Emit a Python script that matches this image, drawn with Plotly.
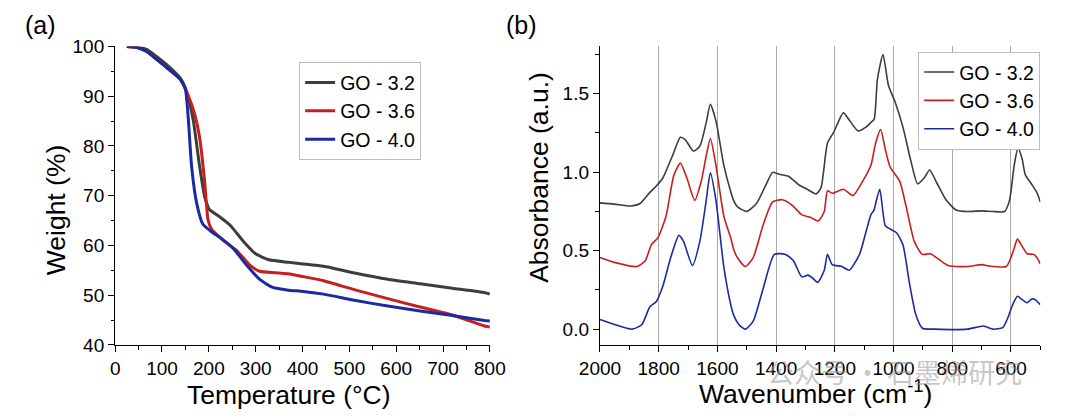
import plotly.graph_objects as go

# ---------------- (a) TGA data ----------------
tga_t_32 = [25, 45, 67, 108, 139, 153, 167, 180, 191, 198, 201, 225, 246, 273, 300, 328, 370, 397, 445, 514, 582, 651, 720, 789, 800]
tga_w_32 = [100, 99.9, 99.4, 96.5, 93.6, 90.8, 85.0, 76.1, 69.8, 67.8, 67.2, 65.6, 64.0, 60.9, 58.3, 57.1, 56.6, 56.3, 55.8, 54.4, 53.2, 52.3, 51.4, 50.5, 50.2]

tga_t_36 = [25, 45, 67, 108, 139, 156, 170, 180, 191, 198, 205, 232, 259, 287, 308, 342, 376, 397, 445, 514, 582, 651, 720, 789, 800]
tga_w_36 = [100, 99.8, 99.0, 95.9, 93.4, 90.1, 86.3, 81.9, 72.9, 65.3, 63.4, 60.9, 59.0, 56.1, 54.8, 54.5, 54.2, 53.8, 52.9, 51.0, 49.3, 47.6, 46.0, 43.8, 43.6]

tga_t_40 = [25, 45, 67, 108, 139, 150, 156, 163, 174, 187, 205, 225, 253, 280, 308, 335, 370, 397, 445, 514, 582, 651, 720, 789, 800]
tga_w_40 = [100, 99.8, 99.0, 95.9, 93.4, 91.4, 85.7, 76.1, 68.5, 64.3, 62.8, 61.5, 59.3, 56.1, 53.2, 51.6, 51.0, 50.8, 50.2, 48.9, 47.8, 46.8, 45.9, 44.9, 44.8]

# ---------------- (b) FTIR data ----------------
ir_k_32 = [2000, 1951, 1896, 1863, 1830, 1808, 1786, 1753, 1726, 1709, 1682, 1660, 1638, 1624, 1605, 1578, 1554, 1545,
           1532, 1500, 1467, 1434, 1412, 1390, 1357, 1324, 1291, 1264, 1247, 1225, 1203, 1171, 1149, 1121, 1094, 1077,
           1066, 1055, 1036, 1017, 995, 968, 940, 918, 896, 877, 853, 820, 787, 748, 699, 661, 622, 605, 589, 576, 562,
           551, 529, 512, 500]
ir_a_32 = [0.804, 0.796, 0.784, 0.800, 0.871, 0.911, 0.962, 1.104, 1.221, 1.205, 1.134, 1.164, 1.316, 1.432, 1.326, 1.043, 0.871, 0.820,
           0.780, 0.749, 0.800, 0.921, 0.998, 0.986, 0.972, 0.921, 0.887, 0.861, 0.901, 1.185, 1.256, 1.377, 1.326, 1.262, 1.286, 1.316,
           1.337, 1.590, 1.748, 1.549, 1.448, 1.286, 1.063, 0.925, 0.962, 1.013, 0.932, 0.820, 0.759, 0.749, 0.753, 0.749, 0.749, 0.820, 1.043, 1.154, 1.083,
           0.982, 0.921, 0.871, 0.810]

ir_k_36 = [2000, 1951, 1874, 1846, 1825, 1803, 1775, 1748, 1726, 1704, 1677, 1655, 1638, 1624, 1605, 1578, 1554, 1545, 1532,
           1505, 1478, 1445, 1412, 1379, 1346, 1313, 1280, 1256, 1236, 1225, 1209, 1171, 1138, 1105, 1077, 1072, 1061, 1044,
           1028, 1012, 979, 957, 929, 902, 874, 847, 814, 748, 699, 677, 616, 600, 589, 578, 562, 545, 523, 512, 500]
ir_a_36 = [0.456, 0.425, 0.399, 0.435, 0.537, 0.581, 0.719, 0.982, 1.057, 0.962, 0.820, 0.942, 1.104, 1.213, 1.043, 0.719, 0.577, 0.510, 0.456,
           0.399, 0.456, 0.658, 0.810, 0.824, 0.790, 0.729, 0.709, 0.689, 0.749, 0.881, 0.865, 0.891, 0.851, 0.942, 1.043, 1.083, 1.185, 1.270,
           1.144, 1.033, 0.942, 0.780, 0.557, 0.476, 0.480, 0.446, 0.405, 0.399, 0.411, 0.403, 0.399, 0.456, 0.516, 0.573, 0.527, 0.480, 0.476, 0.456, 0.415]

ir_k_40 = [2000, 1951, 1890, 1857, 1830, 1808, 1786, 1759, 1731, 1715, 1685, 1660, 1638, 1624, 1605, 1578, 1554, 1545, 1527,
           1505, 1478, 1445, 1406, 1368, 1341, 1313, 1291, 1275, 1258, 1236, 1225, 1209, 1176, 1151, 1116, 1094, 1077, 1066,
           1061, 1047, 1028, 1012, 990, 968, 946, 924, 902, 858, 748, 694, 661, 628, 611, 595, 578, 562, 545, 529, 518, 500]
ir_a_40 = [0.061, 0.030, 0.000, 0.030, 0.142, 0.176, 0.273, 0.456, 0.597, 0.557, 0.405, 0.557, 0.820, 0.996, 0.820, 0.395, 0.152, 0.091, 0.030,
           0.000, 0.051, 0.253, 0.476, 0.476, 0.435, 0.334, 0.344, 0.324, 0.298, 0.375, 0.476, 0.411, 0.399, 0.375, 0.476, 0.618, 0.729, 0.759,
           0.800, 0.891, 0.658, 0.638, 0.614, 0.537, 0.294, 0.091, 0.006, 0.000, 0.000, 0.020, 0.000, 0.010, 0.071, 0.152, 0.209, 0.188, 0.168, 0.192, 0.188, 0.156]

series_names = ["GO - 3.2", "GO - 3.6", "GO - 4.0"]
colors = ["#3d3d3d", "#c81e1e", "#1a2ba0"]

W, H = 1080, 420
FONT = "Liberation Sans, Arial, sans-serif"


def px(x):
    return x / W


def py(y):
    return 1 - y / H


fig = go.Figure()

tga = [(tga_t_32, tga_w_32), (tga_t_36, tga_w_36), (tga_t_40, tga_w_40)]
for (t, w), name, c in zip(tga, series_names, colors):
    fig.add_trace(go.Scatter(x=t, y=w, mode="lines", name=name,
                             line=dict(color=c, width=3, shape="spline", smoothing=0.5),
                             xaxis="x", yaxis="y", legend="legend"))

ir = [(ir_k_32, ir_a_32), (ir_k_36, ir_a_36), (ir_k_40, ir_a_40)]
for (k, a), name, c in zip(ir, series_names, colors):
    fig.add_trace(go.Scatter(x=k, y=a, mode="lines", name=name,
                             line=dict(color=c, width=1.6, shape="spline", smoothing=0.6),
                             xaxis="x2", yaxis="y2", legend="legend2"))

ydom = [py(352.5), py(38.3)]
axis_common = dict(showline=True, linecolor="black", linewidth=1.3, ticks="outside",
                   ticklen=6, tickwidth=1.3, tickcolor="black", zeroline=False,
                   tickfont=dict(family=FONT, size=19, color="black"))
minor_style = dict(ticks="outside", ticklen=3.5, tickwidth=1.2, tickcolor="black")

fig.update_layout(
    width=W, height=H,
    margin=dict(l=0, r=0, t=0, b=0),
    paper_bgcolor="white", plot_bgcolor="white",
    font=dict(family=FONT, color="black"),
    xaxis=dict(domain=[px(97.5), px(485.5)], range=[0, 800], anchor="y",
               tickmode="linear", tick0=0, dtick=100, showgrid=False,
               minor=dict(tick0=0, dtick=50, **minor_style), **axis_common),
    yaxis=dict(domain=ydom, range=[40, 100], anchor="x",
               tickmode="linear", tick0=40, dtick=10, showgrid=False,
               minor=dict(tick0=40, dtick=5, **minor_style), **axis_common),
    xaxis2=dict(domain=[px(599.5), px(1055.5)], range=[2000, 500], anchor="y2",
                tickmode="linear", tick0=2000, dtick=200,
                showgrid=True, gridcolor="#a9a9a9", gridwidth=1,
                minor=dict(tick0=2000, dtick=100, **minor_style), **axis_common),
    yaxis2=dict(domain=ydom, range=[-0.1, 1.8], anchor="x2",
                tickmode="linear", tick0=0, dtick=0.5, tickformat=".1f", showgrid=False,
                minor=dict(tick0=0, dtick=0.25, **minor_style), **axis_common),
    legend=dict(x=px(288), y=py(55), xanchor="left", yanchor="top",
                bgcolor="white", bordercolor="#bdbdbd", borderwidth=1,
                font=dict(family=FONT, size=19.5, color="black"), tracegroupgap=0),
    legend2=dict(x=px(929), y=py(44), xanchor="left", yanchor="top",
                 bgcolor="white", bordercolor="#bdbdbd", borderwidth=1,
                 font=dict(family=FONT, size=19.5, color="black"), tracegroupgap=0),
    showlegend=True,
)

ann = [
    dict(text="(a)", x=px(20), y=py(16), size=25, angle=0),
    dict(text="(b)", x=px(518), y=py(16), size=25, angle=0),
    dict(text="Temperature (°C)", x=px(278), y=py(405), size=26.5, angle=0),
    dict(text="Weight (%)", x=px(36), y=py(210), size=26.5, angle=-90),
    dict(text="Wavenumber (cm<sup>-1</sup>)", x=px(823), y=py(402), size=26.5, angle=0),
    dict(text="Absorbance (a.u.)", x=px(537), y=py(176), size=26.5, angle=-90),
]
for a in ann:
    fig.add_annotation(text=a["text"], x=a["x"], y=a["y"], xref="paper", yref="paper",
                       xanchor="center", yanchor="middle", showarrow=False, textangle=a["angle"],
                       font=dict(family=FONT, size=a["size"], color="black"))

# faint watermark present in the reference image
fig.add_annotation(text="公众号 · 石墨烯研究", x=px(905), y=py(381), xref="paper", yref="paper",
                   xanchor="center", yanchor="middle", showarrow=False,
                   font=dict(family="Noto Sans CJK SC", size=27, color="rgba(150,150,150,0.55)"))

fig.write_html("out.html")
